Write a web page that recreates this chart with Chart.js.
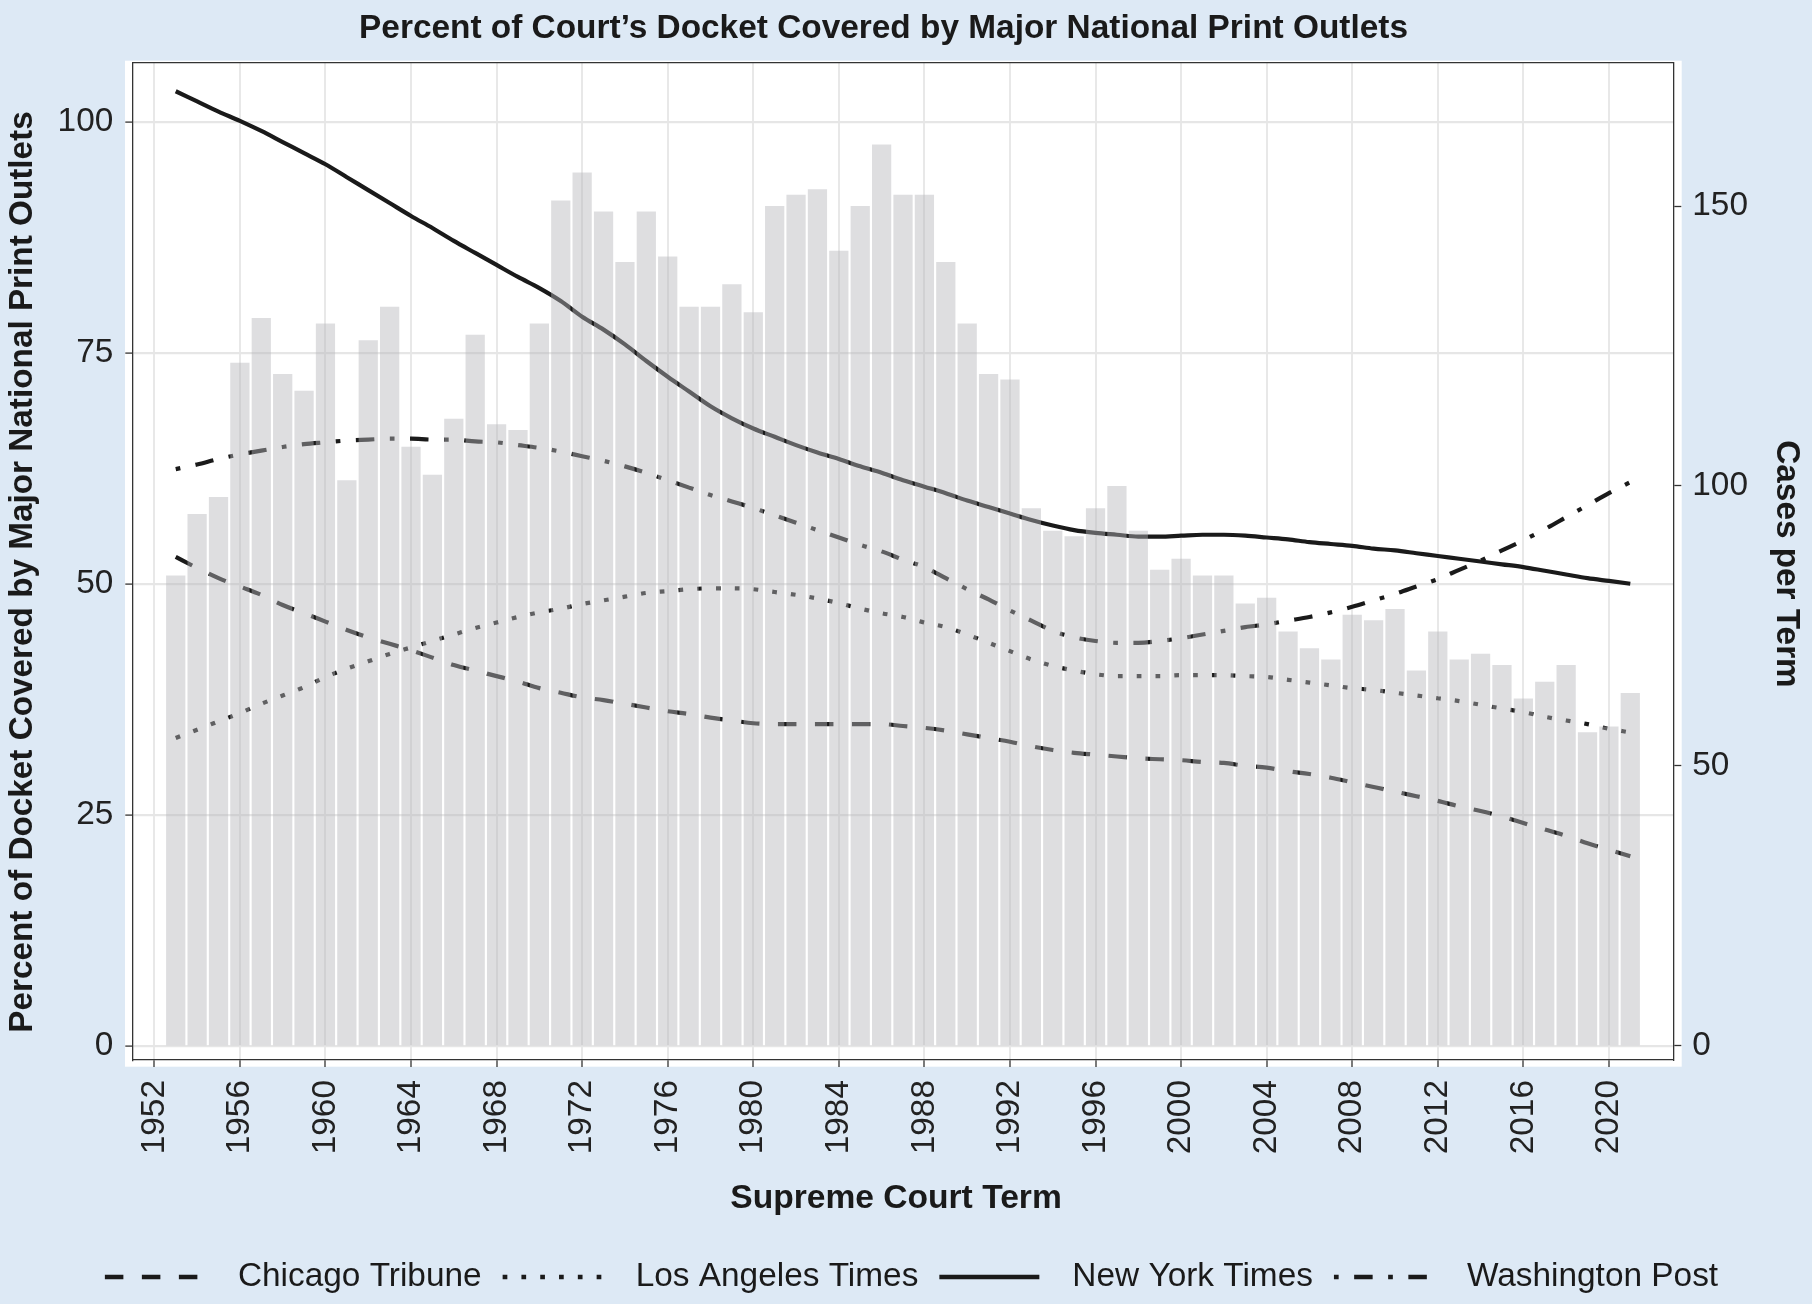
<!DOCTYPE html>
<html><head><meta charset="utf-8">
<script src="https://cdn.jsdelivr.net/npm/chart.js@4.4.1/dist/chart.umd.min.js"></script>
<style>html,body{margin:0;padding:0;background:#dde9f5;}canvas{display:block;}</style>
</head><body>
<canvas id="c" width="1812" height="1304" style="width:1812px;height:1304px"></canvas>
<script>
const years = [1953,1954,1955,1956,1957,1958,1959,1960,1961,1962,
  1963,1964,1965,1966,1967,1968,1969,1970,1971,1972,
  1973,1974,1975,1976,1977,1978,1979,1980,1981,1982,
  1983,1984,1985,1986,1987,1988,1989,1990,1991,1992,
  1993,1994,1995,1996,1997,1998,1999,2000,2001,2002,
  2003,2004,2005,2006,2007,2008,2009,2010,2011,2012,
  2013,2014,2015,2016,2017,2018,2019,2020,2021];
const casesPerTerm = [84,95,98,122,130,120,117,129,101,126,
  132,107,102,112,127,111,110,129,151,156,
  149,140,149,141,132,132,136,131,150,152,
  153,142,150,161,152,152,140,129,120,119,
  96,92,91,96,100,92,85,87,84,84,
  79,80,74,71,69,77,76,78,67,74,
  69,70,68,62,65,68,56,57,63];
const chicagoTribune = [52.9,51.7,50.6,49.7,48.8,47.7,46.8,45.9,45.0,44.2,
  43.5,42.8,42.0,41.2,40.6,40.0,39.4,38.7,38.2,37.7,
  37.4,37.0,36.6,36.2,35.9,35.5,35.2,34.9,34.8,34.8,
  34.8,34.8,34.8,34.8,34.6,34.4,34.1,33.7,33.3,32.9,
  32.4,32.0,31.7,31.5,31.3,31.1,31.0,30.9,30.7,30.6,
  30.3,30.1,29.7,29.4,29.0,28.5,28.0,27.5,27.0,26.5,
  25.9,25.4,24.8,24.1,23.4,22.7,21.9,21.2,20.5];
const losAngelesTimes = [33.3,34.2,35.1,36.0,37.0,37.9,38.8,39.9,40.8,41.6,
  42.4,43.1,43.8,44.5,45.2,45.8,46.4,46.9,47.3,47.8,
  48.2,48.6,49.0,49.2,49.4,49.5,49.5,49.4,49.1,48.8,
  48.4,47.9,47.3,46.8,46.4,45.8,45.3,44.5,43.6,42.7,
  41.8,41.1,40.6,40.2,40.0,40.0,40.0,40.1,40.1,40.1,
  40.0,39.9,39.6,39.3,39.0,38.7,38.5,38.2,37.9,37.6,
  37.3,36.9,36.5,36.1,35.6,35.2,34.8,34.3,33.9];
const newYorkTimes = [103.3,102.2,101.1,100.1,99.0,97.8,96.6,95.4,94.0,92.6,
  91.2,89.8,88.5,87.1,85.8,84.5,83.2,82.0,80.6,78.9,
  77.5,75.9,74.1,72.4,70.8,69.2,67.9,66.8,65.9,65.0,
  64.2,63.5,62.7,62.0,61.2,60.5,59.8,59.0,58.3,57.6,
  56.9,56.3,55.8,55.5,55.3,55.1,55.1,55.2,55.3,55.3,
  55.2,55.0,54.8,54.5,54.3,54.1,53.8,53.6,53.3,53.0,
  52.7,52.4,52.1,51.8,51.4,51.0,50.6,50.3,50.0];
const washingtonPost = [62.4,62.9,63.5,64.0,64.4,64.8,65.1,65.3,65.5,65.6,
  65.7,65.7,65.6,65.6,65.4,65.3,65.0,64.7,64.3,63.8,
  63.3,62.7,62.0,61.2,60.4,59.6,58.9,58.2,57.4,56.6,
  55.8,55.0,54.2,53.5,52.6,51.8,50.6,49.4,48.3,47.1,
  46.0,44.9,44.2,43.8,43.6,43.6,43.8,44.1,44.5,44.9,
  45.3,45.6,46.0,46.4,46.9,47.5,48.2,48.9,49.7,50.5,
  51.5,52.5,53.6,54.7,55.9,57.2,58.5,59.8,61.0];
const xTickLabels = [1952,1956,1960,1964,1968,1972,1976,1980,1984,1988,1992,1996,2000,2004,2008,2012,2016,2020];
const leftTickLabels = [0,25,50,75,100];
const rightTickLabels = [0,50,100,150];
const seriesNames = ['Chicago Tribune','Los Angeles Times','New York Times','Washington Post'];

const FAMILY = '"Liberation Sans", Arial, Helvetica, sans-serif';
const INK = '#1a1a1a';
const dashes = {
  'Chicago Tribune': [18.5, 18.5],
  'Los Angeles Times': [4.7, 14.1],
  'New York Times': [],
  'Washington Post': [4.7, 15.5, 18.5, 15.5]
};
const seriesValues = [chicagoTribune, losAngelesTimes, newYorkTimes, washingtonPost];
const toXY = arr => years.map((yr, i) => ({x: yr, y: arr[i]}));

const lineSets = seriesNames.map((name, k) => ({
  type: 'line', label: name, data: toXY(seriesValues[k]), yAxisID: 'y',
  borderColor: INK, borderWidth: 4.2, borderDash: dashes[name], borderCapStyle: 'butt',
  pointRadius: 0, cubicInterpolationMode: 'monotone', fill: false, order: 1
}));

const decor = {
  id: 'decor',
  beforeDraw(chart) {
    const {ctx, chartArea: a} = chart;
    ctx.save();
    ctx.fillStyle = '#dde9f5';
    ctx.fillRect(0, 0, chart.width, chart.height);
    ctx.fillStyle = '#ffffff';
    ctx.fillRect(a.left - 7.3, a.top - 2, (a.right - a.left) + 15.7, (a.bottom - a.top) + 8.7);
    ctx.restore();
  },
  afterDraw(chart) {
    const {ctx, chartArea: a} = chart;
    ctx.save();
    ctx.strokeStyle = '#333'; ctx.lineWidth = 1.3;
    ctx.beginPath(); ctx.moveTo(a.left, a.top); ctx.lineTo(a.right, a.top); ctx.stroke();
    ctx.fillStyle = INK;
    ctx.textBaseline = 'middle'; ctx.textAlign = 'center';
    ctx.font = 'bold 33.4px ' + FAMILY;
    ctx.fillText('Percent of Court\u2019s Docket Covered by Major National Print Outlets', 883.5, 29);
    ctx.font = 'bold 33.6px ' + FAMILY;
    ctx.fillText('Supreme Court Term', 896, 1199);
    ctx.save();
    ctx.translate(23, 572); ctx.rotate(-Math.PI / 2);
    ctx.font = 'bold 33.3px ' + FAMILY;
    ctx.fillText('Percent of Docket Covered by Major National Print Outlets', 0, 0);
    ctx.restore();
    ctx.save();
    ctx.translate(1786.6, 564); ctx.rotate(Math.PI / 2);
    ctx.font = 'bold 33.3px ' + FAMILY;
    ctx.fillText('Cases per Term', 0, 0);
    ctx.restore();
    ctx.font = '33.4px ' + FAMILY;
    const lineLen = 100, gapLT = 33, gapItems = 21, ly = 1277;
    const widths = seriesNames.map(t => ctx.measureText(t).width);
    const total = seriesNames.length * (lineLen + gapLT) + widths.reduce((s, w) => s + w, 0) + (seriesNames.length - 1) * gapItems;
    let x = 911.5 - total / 2;
    ctx.textAlign = 'left';
    seriesNames.forEach((name, i) => {
      ctx.strokeStyle = INK; ctx.lineWidth = 4.5; ctx.lineCap = 'butt';
      ctx.setLineDash(dashes[name]);
      ctx.beginPath(); ctx.moveTo(x, ly); ctx.lineTo(x + lineLen, ly); ctx.stroke();
      ctx.setLineDash([]);
      x += lineLen + gapLT;
      ctx.fillText(name, x, ly);
      x += widths[i] + gapItems;
    });
    ctx.restore();
  }
};

const tickFont = {family: FAMILY, size: 33.4};
new Chart(document.getElementById('c'), {
  type: 'bar',
  data: {
    datasets: [
      {type: 'bar', label: 'Cases per Term', data: toXY(casesPerTerm), yAxisID: 'y2',
       backgroundColor: 'rgba(181,182,186,0.45)', borderWidth: 0,
       barPercentage: 0.9, categoryPercentage: 1.0, order: 0},
      ...lineSets
    ]
  },
  options: {
    responsive: false, animation: false, events: [],
    layout: {padding: {top: 62.7, left: 0, right: 0, bottom: 0}},
    plugins: {legend: {display: false}, tooltip: {enabled: false}, title: {display: false}},
    scales: {
      x: {
        type: 'linear', position: 'bottom', min: 1950.97, max: 2023.01, offset: false,
        afterBuildTicks: s => { s.ticks = xTickLabels.map(v => ({value: v})); },
        afterFit: s => { s.height = 244; },
        ticks: {autoSkip: false, minRotation: 90, maxRotation: 90, padding: 13, color: '#222', font: tickFont,
                callback: v => String(v)},
        grid: {offset: false, color: '#e8e8e8', lineWidth: 2, tickColor: '#333', tickWidth: 1.3, tickLength: 7},
        border: {color: '#333', width: 1.3}
      },
      y: {
        type: 'linear', position: 'left', min: -1.55, max: 106.39,
        afterBuildTicks: s => { s.ticks = leftTickLabels.map(v => ({value: v})); },
        afterFit: s => { s.width = 132.3; },
        ticks: {padding: 12, color: '#222', font: tickFont, callback: v => String(v)},
        grid: {offset: false, color: '#e6e6e6', lineWidth: 2.2, tickColor: '#333', tickWidth: 1.3, tickLength: 7},
        border: {color: '#333', width: 1.3}
      },
      y2: {
        type: 'linear', position: 'right', min: -2.56, max: 175.6,
        afterBuildTicks: s => { s.ticks = rightTickLabels.map(v => ({value: v})); },
        afterFit: s => { s.width = 138.7; },
        ticks: {padding: 11, color: '#222', font: tickFont, callback: v => String(v)},
        grid: {offset: false, drawOnChartArea: false, tickColor: '#333', tickWidth: 1.3, tickLength: 8},
        border: {color: '#333', width: 1.3}
      }
    }
  },
  plugins: [decor]
});
</script>
</body></html>
